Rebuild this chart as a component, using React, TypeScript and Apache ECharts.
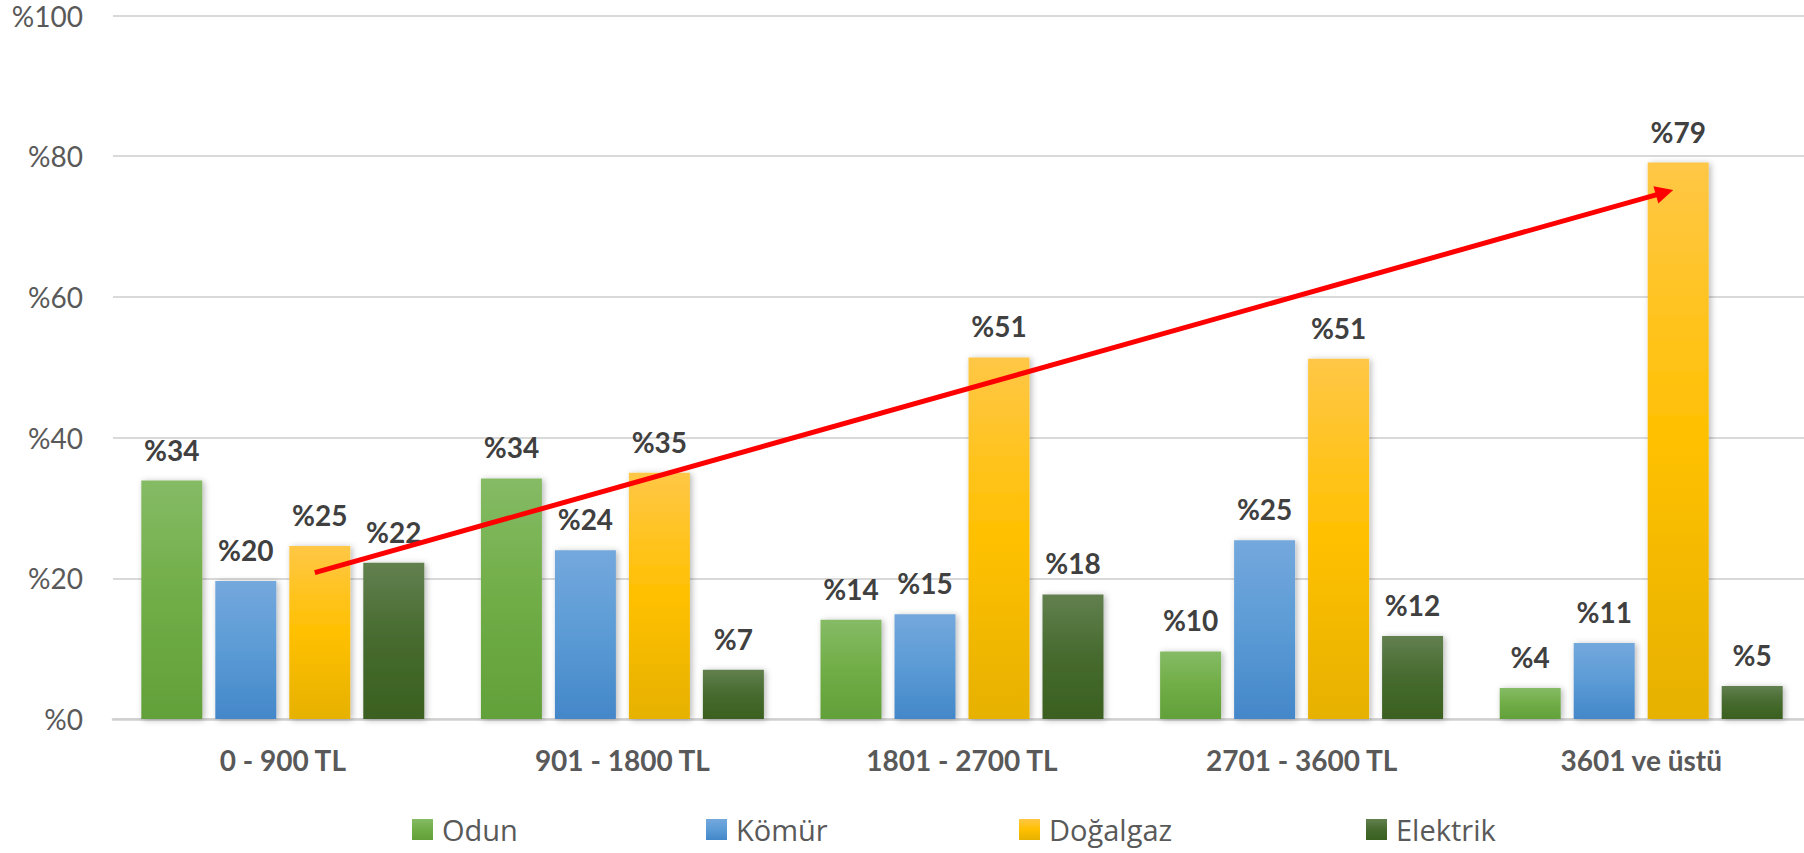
import React, { useEffect, useRef } from "react";
import * as echarts from "echarts";

const categories = ["0 - 900 TL", "901 - 1800 TL", "1801 - 2700 TL", "2701 - 3600 TL", "3601 ve üstü"];
const seriesNames = ["Odun", "Kömür", "Doğalgaz", "Elektrik"];
const odun = [33.9, 34.2, 14.1, 9.6, 4.4];
const komur = [19.6, 24.0, 14.9, 25.4, 10.8];
const dogalgaz = [24.6, 35.0, 51.4, 51.2, 79.1];
const elektrik = [22.2, 7.0, 17.7, 11.8, 4.7];
const yMin = 0;
const yMax = 100;
const yInterval = 20;
// trend arrow anchors: [category index, value]
const arrowStart = [0, 20.8];
const arrowEnd = [4, 75.2];

const gradients = [
  ["#85bb65", "#70ad47", "#62a03a"],
  ["#74a8dd", "#5b9bd5", "#4487c9"],
  ["#ffc746", "#ffc000", "#e6b100"],
  ["#62804f", "#466a2e", "#3a6020"],
];

const legendLefts = [412, 706, 1019, 1366];

function grad(c: string[]) {
  return new echarts.graphic.LinearGradient(0, 0, 0, 1, [
    { offset: 0, color: c[0] },
    { offset: 0.5, color: c[1] },
    { offset: 1, color: c[2] },
  ]);
}

export default function App() {
  const ref = useRef<HTMLDivElement>(null);
  useEffect(() => {
    if (!ref.current) return;
    const chart = echarts.init(ref.current, undefined, { renderer: "svg" });
    const dataSets = [odun, komur, dogalgaz, elektrik];
    const series = seriesNames.map((name, i) => ({
      name,
      type: "bar",
      data: dataSets[i],
      barWidth: 61,
      barGap: "21.3%",
      itemStyle: {
        color: grad(gradients[i]),
        shadowBlur: 6,
        shadowColor: "rgba(0,0,0,0.28)",
        shadowOffsetX: 2,
        shadowOffsetY: 1,
      },
      label: {
        show: true,
        position: "top",
        distance: 17,
        formatter: (p: any) => "%" + Math.round(p.value),
        fontFamily: "Lato",
        fontWeight: "bold",
        fontSize: 28,
        color: "#404040",
      },
    }));
    chart.setOption({
      animation: false,
      backgroundColor: "#ffffff",
      grid: {
        left: 113,
        top: 15.5,
        width: 1698,
        height: 703.5,
        containLabel: false,
        outerBoundsMode: "none",
      },
      legend: seriesNames.map((n, i) => ({
        data: [n],
        left: legendLefts[i],
        top: 815,
        padding: 0,
        itemWidth: 21,
        itemHeight: 21,
        icon: "rect",
        textStyle: {
          fontFamily: "Open Sans",
          fontSize: 29,
          color: "#595959",
          padding: [0, 0, 0, 4],
        },
      })),
      xAxis: {
        type: "category",
        data: categories,
        axisTick: { show: false },
        axisLine: { lineStyle: { color: "#d0d0d0", width: 2.5 } },
        axisLabel: {
          margin: 27,
          fontFamily: "Lato",
          fontWeight: "bold",
          fontSize: 28,
          color: "#595959",
        },
      },
      yAxis: {
        type: "value",
        min: yMin,
        max: yMax,
        interval: yInterval,
        axisLine: { show: false },
        axisTick: { show: false },
        splitLine: { lineStyle: { color: "#d9d9d9", width: 2 } },
        axisLabel: {
          margin: 30,
          formatter: (v: number) => "%" + v,
          fontFamily: "Lato",
          fontSize: 28,
          color: "#595959",
        },
      },
      series,
    });

    const barOffset = 32;
    const p0 = chart.convertToPixel({ xAxisIndex: 0, yAxisIndex: 0 }, arrowStart) as number[];
    const p1 = chart.convertToPixel({ xAxisIndex: 0, yAxisIndex: 0 }, arrowEnd) as number[];
    const x0 = p0[0] + barOffset, y0 = p0[1];
    const x1 = p1[0] + barOffset, y1 = p1[1];
    const dx = x1 - x0, dy = y1 - y0;
    const len = Math.sqrt(dx * dx + dy * dy);
    const ux = dx / len, uy = dy / len;
    const headLen = 18, headHalf = 9;
    const bx = x1 - ux * headLen, by = y1 - uy * headLen;
    const nx = -uy, ny = ux;
    chart.setOption({
      graphic: [
        {
          type: "line",
          shape: { x1: x0, y1: y0, x2: bx + ux * 2, y2: by + uy * 2 },
          style: { stroke: "#ff0000", lineWidth: 5 },
          z: 100,
        },
        {
          type: "polygon",
          shape: {
            points: [
              [x1, y1],
              [bx + nx * headHalf, by + ny * headHalf],
              [bx - nx * headHalf, by - ny * headHalf],
            ],
          },
          style: { fill: "#ff0000" },
          z: 100,
        },
      ],
    });

    return () => chart.dispose();
  }, []);
  return (
    <div
      ref={ref}
      style={{ position: "fixed", left: 0, top: 0, width: 1804, height: 853, background: "#fff" }}
    />
  );
}
